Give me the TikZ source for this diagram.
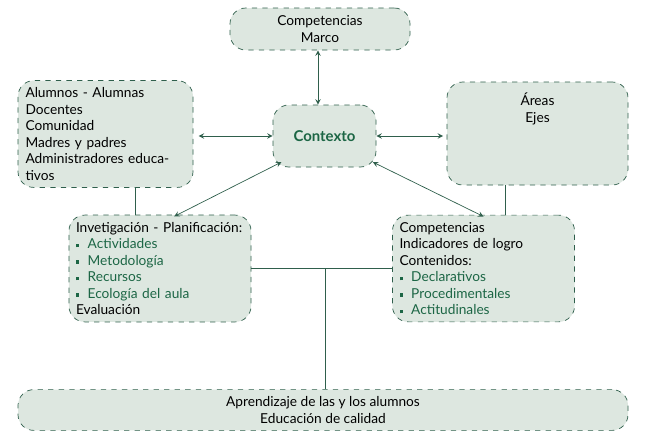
\documentclass[tikz,border=0pt]{standalone}
\usepackage{fontspec}
\setmainfont{Lato}
\definecolor{boxfill}{HTML}{DDE7E0}
\definecolor{boxline}{HTML}{2F5F4C}
\definecolor{itemgreen}{HTML}{1C6645}
\newcommand{\itm}{{\color{itemgreen}\rule[0.2ex]{0.5ex}{0.5ex}}\hspace{0.6em}}
\begin{document}
\begin{tikzpicture}[x=0.02cm,y=-0.02cm,
  box/.style={draw=boxline,dashed,fill=boxfill,rounded corners=9pt,inner sep=4pt},
  link/.style={draw=boxline,thin},
  both/.style={link,<->,>=stealth},
  font=\fontsize{7.8}{9.4}\selectfont]
\useasboundingbox (0,0) rectangle (650,440);
\node[box,minimum width=180*0.02cm,minimum height=42*0.02cm,align=center] (marco) at (320,29) {Competencias\\Marco};
\node[box,minimum width=175*0.02cm,minimum height=98*0.02cm,align=left,text width=160*0.02cm] (actores) at (105.5,134) {Alumnos - Alumnas\\Docentes\\Comunidad\\Madres y padres\\Administradores educativos};
\node[box,minimum width=103*0.02cm,minimum height=62*0.02cm,font=\fontsize{8.5}{10}\selectfont\bfseries,text=itemgreen] (contexto) at (324.5,136) {Contexto};
\node[box,minimum width=181*0.02cm,minimum height=103*0.02cm,align=center] (areas) at (537.5,133.5) {Áreas\\Ejes\\[5ex]};
\node[box,minimum width=180*0.02cm,minimum height=103*0.02cm,align=left,text width=168*0.02cm] (plan) at (160,268.5) {Invetigación - Planificación:\\
  \itm{\color{itemgreen}Actividades}\\\itm{\color{itemgreen}Metodología}\\\itm{\color{itemgreen}Recursos}\\\itm{\color{itemgreen}Ecología del aula}\\Evaluación};
\node[box,minimum width=181*0.02cm,minimum height=103*0.02cm,align=left,text width=168*0.02cm] (compet) at (483.5,268.5) {Competencias\\Indicadores de logro\\Contenidos:\\
  \itm{\color{itemgreen}Declarativos}\\\itm{\color{itemgreen}Procedimentales}\\\itm{\color{itemgreen}Actitudinales}};
\node[box,minimum width=610*0.02cm,minimum height=40*0.02cm,align=center] (aprend) at (323,410) {Aprendizaje de las y los alumnos\\Educación de calidad};
% flechas al contexto
\coordinate (t) at (318,0);
\draw[both] (t |- marco.south) -- (t |- contexto.north);
\draw[both] ([xshift=3pt]actores.east |- contexto.west) -- (contexto.west);
\draw[both] (contexto.east) -- ([xshift=-2pt]areas.west |- contexto.east);
\draw[both] ([xshift=5pt,yshift=3pt]contexto.south west) -- ([xshift=60pt,yshift=-1pt]plan.north west);
\draw[both] ([xshift=-2pt,yshift=3pt]contexto.south east) -- ([xshift=-52pt,yshift=-1pt]compet.north east);
% lineas
\coordinate (v1) at (135,0);
\draw[link] (v1 |- actores.south) -- (v1 |- plan.north);
\coordinate (v2) at (505,0);
\draw[link] (v2 |- areas.south) -- (v2 |- compet.north);
\draw[link] (plan.east) -- (compet.west);
\coordinate (m) at (325,268.5);
\draw[link] (m) -- (m |- aprend.north);
\end{tikzpicture}
\end{document}
